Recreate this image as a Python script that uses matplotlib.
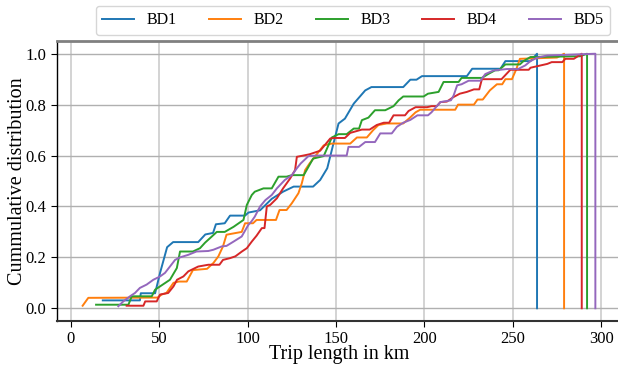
import matplotlib
matplotlib.use("Agg")
import matplotlib.pyplot as plt
from matplotlib import font_manager

_avail = set(f.name for f in font_manager.fontManager.ttflist)
_serif = [n for n in ['Liberation Serif', 'TeX Gyre Termes', 'STIXGeneral', 'FreeSerif']
          if n in _avail]
plt.rcParams['font.family'] = _serif[:1] + ['DejaVu Serif']

labels = ["BD1", "BD2", "BD3", "BD4", "BD5"]
colors = ["#1f77b4", "#ff7f0e", "#2ca02c", "#d62728", "#9467bd"]

# (trip length km, cumulative share)
bd1 = [(18, 0.031), (39, 0.031), (39.5, 0.059), (47.6, 0.059), (50.4, 0.139), (54.4, 0.24),
       (57.8, 0.26), (72, 0.26), (76, 0.29), (80.4, 0.296), (82, 0.33), (87, 0.334),
       (90, 0.364), (98.5, 0.364), (100.4, 0.376), (107, 0.385), (113.6, 0.43), (120, 0.458),
       (126, 0.478), (137, 0.478), (141, 0.504), (145, 0.55), (148.5, 0.647), (151.4, 0.726),
       (155, 0.745), (160, 0.804), (166.5, 0.856), (170, 0.869), (188, 0.869), (192, 0.898),
       (195.5, 0.898), (198.6, 0.912), (224, 0.912), (227, 0.941), (243, 0.941),
       (245.8, 0.971), (260, 0.971), (263.7, 1.0)]

bd2 = [(6.6, 0.01), (9.8, 0.041), (49, 0.042), (51.3, 0.054), (54, 0.06), (58, 0.1),
       (61, 0.105), (65.5, 0.105), (69, 0.15), (77, 0.155), (80.6, 0.178), (83.4, 0.204),
       (86, 0.243), (88, 0.289), (96.6, 0.30), (98.5, 0.334), (103, 0.334), (105, 0.347),
       (116, 0.347), (118, 0.386), (122, 0.386), (125, 0.413), (128.7, 0.452), (130.6, 0.491),
       (132.5, 0.543), (135, 0.569), (143, 0.64), (147.6, 0.647), (158, 0.647), (161.8, 0.671),
       (167.4, 0.671), (171, 0.70), (174, 0.72), (178.7, 0.726), (188, 0.726), (192, 0.75),
       (195, 0.77), (197.6, 0.78), (217.4, 0.78), (219, 0.80), (228, 0.80), (230, 0.82),
       (233, 0.82), (237, 0.856), (241, 0.88), (244, 0.88), (245.8, 0.90), (249.5, 0.90),
       (252, 0.94), (254, 0.98), (275, 0.985), (279, 1.0)]

bd3 = [(14.2, 0.014), (32.5, 0.014), (34.4, 0.047), (45.7, 0.047), (47.6, 0.073), (50.4, 0.086),
       (56, 0.112), (59.9, 0.158), (61.7, 0.223), (69, 0.223), (73, 0.236), (75.9, 0.258),
       (79.7, 0.282), (82.5, 0.30), (87, 0.30), (92, 0.32), (97.6, 0.347), (99.5, 0.406),
       (102.3, 0.445), (104, 0.458), (108.9, 0.471), (113.6, 0.471), (117.4, 0.517),
       (122, 0.517), (125, 0.523), (131.7, 0.523), (137, 0.588), (143, 0.598), (147.6, 0.671),
       (151.4, 0.684), (156, 0.684), (160, 0.706), (163, 0.706), (164.6, 0.739), (168.3, 0.749),
       (172, 0.778), (177.8, 0.778), (182.5, 0.794), (185.4, 0.817), (188, 0.832),
       (199.5, 0.832), (202, 0.843), (208, 0.85), (210.8, 0.889), (219.3, 0.889), (221, 0.905),
       (232.5, 0.905), (236, 0.92), (240, 0.935), (242, 0.935), (245.8, 0.958), (254, 0.958),
       (256, 0.971), (260, 0.987), (288, 0.99), (292, 1.0)]

bd4 = [(31.5, 0.01), (41, 0.01), (42, 0.027), (48.5, 0.027), (50.4, 0.054), (55, 0.06),
       (58, 0.086), (60, 0.112), (63.6, 0.125), (66.4, 0.145), (72, 0.164), (77.7, 0.171),
       (84, 0.171), (86, 0.19), (90, 0.197), (93, 0.204), (96.7, 0.223), (99.5, 0.236),
       (102.3, 0.262), (105, 0.285), (108, 0.315), (109.5, 0.315), (110.8, 0.40), (112.7, 0.406),
       (116.5, 0.432), (120, 0.471), (124, 0.51), (126.8, 0.543), (127.8, 0.595), (131.5, 0.60),
       (135, 0.605), (141, 0.619), (146.7, 0.667), (149, 0.669), (155, 0.669), (158, 0.689),
       (164.6, 0.702), (169, 0.702), (173, 0.72), (177, 0.729), (180, 0.729), (182.5, 0.758),
       (189, 0.758), (191, 0.775), (195, 0.79), (201.5, 0.79), (204, 0.794), (207, 0.794),
       (209, 0.81), (212.7, 0.812), (216.5, 0.83), (220, 0.843), (224, 0.85), (228, 0.86),
       (231, 0.86), (232.5, 0.90), (243.6, 0.90), (248.6, 0.937), (259, 0.937), (260, 0.945),
       (269.5, 0.96), (272, 0.967), (278, 0.967), (279.7, 0.98), (284.5, 0.98), (289, 1.0)]

bd5 = [(26.8, 0.008), (29.6, 0.027), (33.4, 0.047), (36.2, 0.06), (39, 0.08), (42.8, 0.093),
       (46.6, 0.112), (50.4, 0.125), (53.2, 0.139), (56, 0.164), (58.9, 0.19), (61.7, 0.20),
       (66.4, 0.21), (71, 0.223), (77.7, 0.225), (80.6, 0.23), (85.3, 0.243), (88, 0.245),
       (92, 0.262), (96.6, 0.282), (100.4, 0.328), (102, 0.34), (104, 0.36), (107, 0.40),
       (110, 0.425), (113.6, 0.445), (116.5, 0.471), (121, 0.504), (125, 0.523), (127.8, 0.55),
       (130, 0.569), (134.4, 0.598), (139, 0.60), (156, 0.60), (157, 0.634), (163, 0.634),
       (166.5, 0.653), (172, 0.653), (175, 0.687), (181.5, 0.687), (184.4, 0.713), (188, 0.729),
       (192, 0.74), (196, 0.758), (202, 0.758), (204, 0.77), (209, 0.81), (215, 0.817),
       (216.5, 0.836), (218.5, 0.876), (221, 0.88), (225, 0.894), (231.7, 0.894), (234.4, 0.92),
       (239, 0.934), (246.7, 0.94), (253, 0.94), (257, 0.954), (260, 0.971), (263.6, 0.984),
       (269.4, 0.993), (296.7, 1.0)]

series = [bd1, bd2, bd3, bd4, bd5]

fig = plt.figure(figsize=(6.18, 3.68), dpi=100)
ax = fig.add_axes([57 / 618, 47 / 368, 564 / 618, 280 / 368])

for pts, lab, col in zip(series, labels, colors):
    xs = [p[0] for p in pts]
    ys = [p[1] for p in pts]
    # closing drop of the cumulative curve at its last value
    xs.append(xs[-1])
    ys.append(0.0)
    ax.plot(xs, ys, color=col, lw=1.4, label=lab, zorder=3)

ax.set_xticks([0, 50, 100, 150, 200, 250, 300])
ax.set_yticks([0.0, 0.2, 0.4, 0.6, 0.8, 1.0])
ax.set_yticklabels(["0.0", "0.2", "0.4", "0.6", "0.8", "1.0"])
ax.tick_params(axis='both', labelsize=12, length=4, width=0.8, colors='black')
ax.tick_params(axis='x', pad=3)
ax.xaxis.grid(True, color='#cccccc', lw=1.2, zorder=0)
ax.yaxis.grid(True, color='#b0b0b0', lw=1.0, zorder=0)
ax.set_axisbelow(True)

ax.spines['right'].set_visible(False)
ax.spines['top'].set_color('#808080')
ax.spines['top'].set_linewidth(2.0)
ax.spines['bottom'].set_color('#333333')
ax.spines['bottom'].set_linewidth(1.5)
ax.spines['left'].set_color('black')
ax.spines['left'].set_linewidth(1.0)

ax.set_xlabel("Trip length in km", fontsize=14.5, labelpad=-1)
ax.set_ylabel("Cummulative distribution", fontsize=14.5, labelpad=-1)

fig.legend(loc='center', bbox_to_anchor=(353 / 618, 1 - 20.5 / 368), ncol=5,
           fontsize=11.5, frameon=True, edgecolor='#cccccc', fancybox=True)

fig.savefig("out.png", dpi=100)
